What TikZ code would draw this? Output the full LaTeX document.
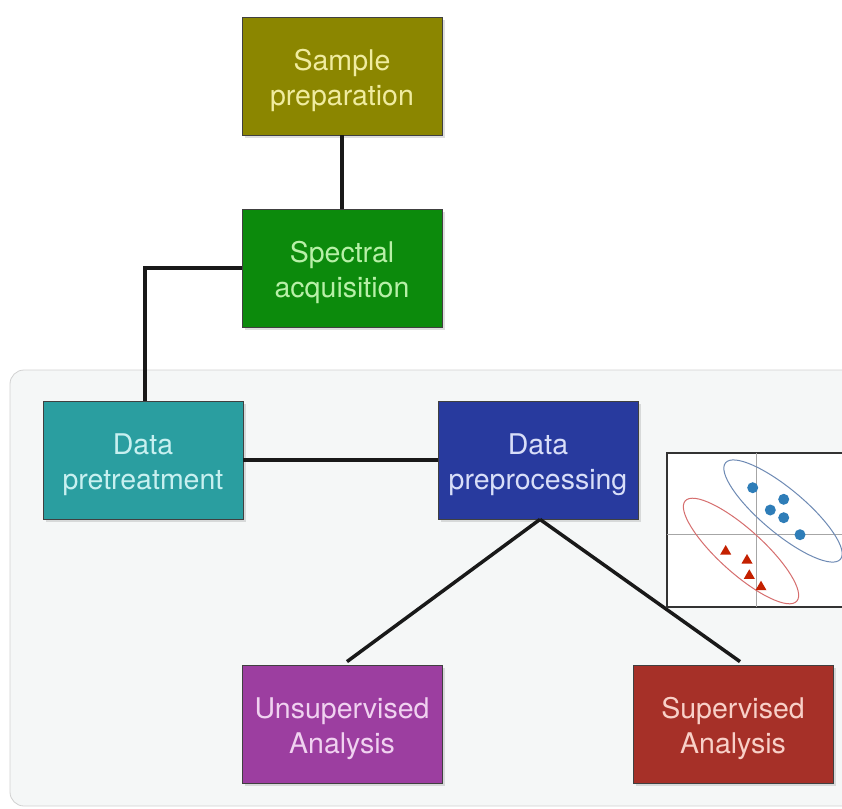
\documentclass[tikz,border=0pt]{standalone}
\usepackage{fontspec}
\setmainfont{TeX Gyre Heros}
\usepackage{xcolor}
\usepackage{tikz}
\usetikzlibrary{shapes, shadows, positioning, calc}

\definecolor{sampleol}{RGB}{139,134,0}
\definecolor{spectgr}{RGB}{12,138,12}
\definecolor{pretrteal}{RGB}{42,158,160}
\definecolor{preprblue}{RGB}{40,58,158}
\definecolor{unsuppurp}{RGB}{156,62,160}
\definecolor{suppred}{RGB}{166,48,40}
\definecolor{sampletxt}{RGB}{240,236,160}
\definecolor{spectxt}{RGB}{184,240,168}
\definecolor{pretrtxt}{RGB}{200,240,240}
\definecolor{preprtxt}{RGB}{216,222,248}
\definecolor{unsuptxt}{RGB}{240,210,240}
\definecolor{suptxt}{RGB}{248,208,200}
\definecolor{panelgray}{RGB}{245,247,247}
\definecolor{dotblue}{RGB}{46,125,184}
\definecolor{trired}{RGB}{196,32,0}
\definecolor{ellblue}{RGB}{110,138,180}
\definecolor{ellred}{RGB}{214,110,110}

% two-line box text, pushed a little down
\newcommand{\twolines}[2]{\rule{0pt}{30pt}#1\\#2}

\tikzset{
  stagebox/.style={draw=black!75, line width=0.8pt, minimum width=200pt,
    minimum height=118pt, align=center, font=\fontsize{28.5}{35}\selectfont,
    drop shadow={opacity=0.25, shadow xshift=3pt, shadow yshift=-3pt}},
  link/.style={line width=3.5pt, black!90}
}

\begin{document}
\begin{tikzpicture}[x=1pt, y=-1pt]
  \useasboundingbox (0,0) rectangle (842,808);
  \clip (0,0) rectangle (842,808);

  % Grey panel behind the analysis part
  \draw[rounded corners=14pt, fill=panelgray, draw=black!18, line width=0.8pt]
    (10,370) rectangle (870,806);

  % Stages
  \node[stagebox, fill=sampleol, text=sampletxt] (sample) at (342,76) {\twolines{Sample}{preparation}};
  \node[stagebox, fill=spectgr, text=spectxt] (spectral) at (342,268) {\twolines{Spectral}{acquisition}};
  \node[stagebox, fill=pretrteal, text=pretrtxt] (pretreat) at (143,460) {\twolines{Data}{pretreatment}};
  \node[stagebox, fill=preprblue, text=preprtxt] (preproc) at (538,460) {\twolines{Data}{preprocessing}};
  \node[stagebox, fill=unsuppurp, text=unsuptxt] (unsup) at (342,724) {\twolines{Unsupervised}{Analysis}};
  \node[stagebox, fill=suppred, text=suptxt] (sup) at (733,724) {\twolines{Supervised}{Analysis}};

  % Connectors
  \draw[link] (sample) -- (spectral);
  \draw[link] (spectral.west) -| ([xshift=2pt]pretreat.north);
  \draw[link] (pretreat) -- (preproc);
  \draw[link] ([xshift=2pt]preproc.south) -- ([xshift=5pt,yshift=3pt]unsup.north);
  \draw[link] ([xshift=2pt]preproc.south) -- ([xshift=7pt,yshift=3pt]sup.north);

  % Score plot inset
  \draw[fill=white, draw=black!80, line width=1.2pt] (667,453) rectangle (850,607);
  \draw[black!35, line width=0.6pt] (756,453) -- (756,607);
  \draw[black!35, line width=0.6pt] (667,534) -- (850,534);

  % Class ellipses
  \draw[ellblue, line width=1pt, rotate around={-40:(783,511)}]
    (783,511) ellipse [x radius=75, y radius=22];
  \draw[ellred, line width=1pt, rotate around={-42:(741,551)}]
    (741,551) ellipse [x radius=75, y radius=22];

  % Class 1 points
  \fill[dotblue] (752.7,487.7) circle (5.5);
  \fill[dotblue] (783.7,499.3) circle (5.5);
  \fill[dotblue] (770.3,510) circle (5.5);
  \fill[dotblue] (783.7,517.7) circle (5.5);
  \fill[dotblue] (800,534.7) circle (5.5);

  % Class 2 points
  \fill[trired] (725.7,545) -- (720.2,554.5) -- (731.2,554.5) -- cycle;
  \fill[trired] (747,554) -- (741.5,563.5) -- (752.5,563.5) -- cycle;
  \fill[trired] (749.3,569.3) -- (743.8,578.8) -- (754.8,578.8) -- cycle;
  \fill[trired] (761,580.7) -- (755.5,590.2) -- (766.5,590.2) -- cycle;
\end{tikzpicture}
\end{document}
